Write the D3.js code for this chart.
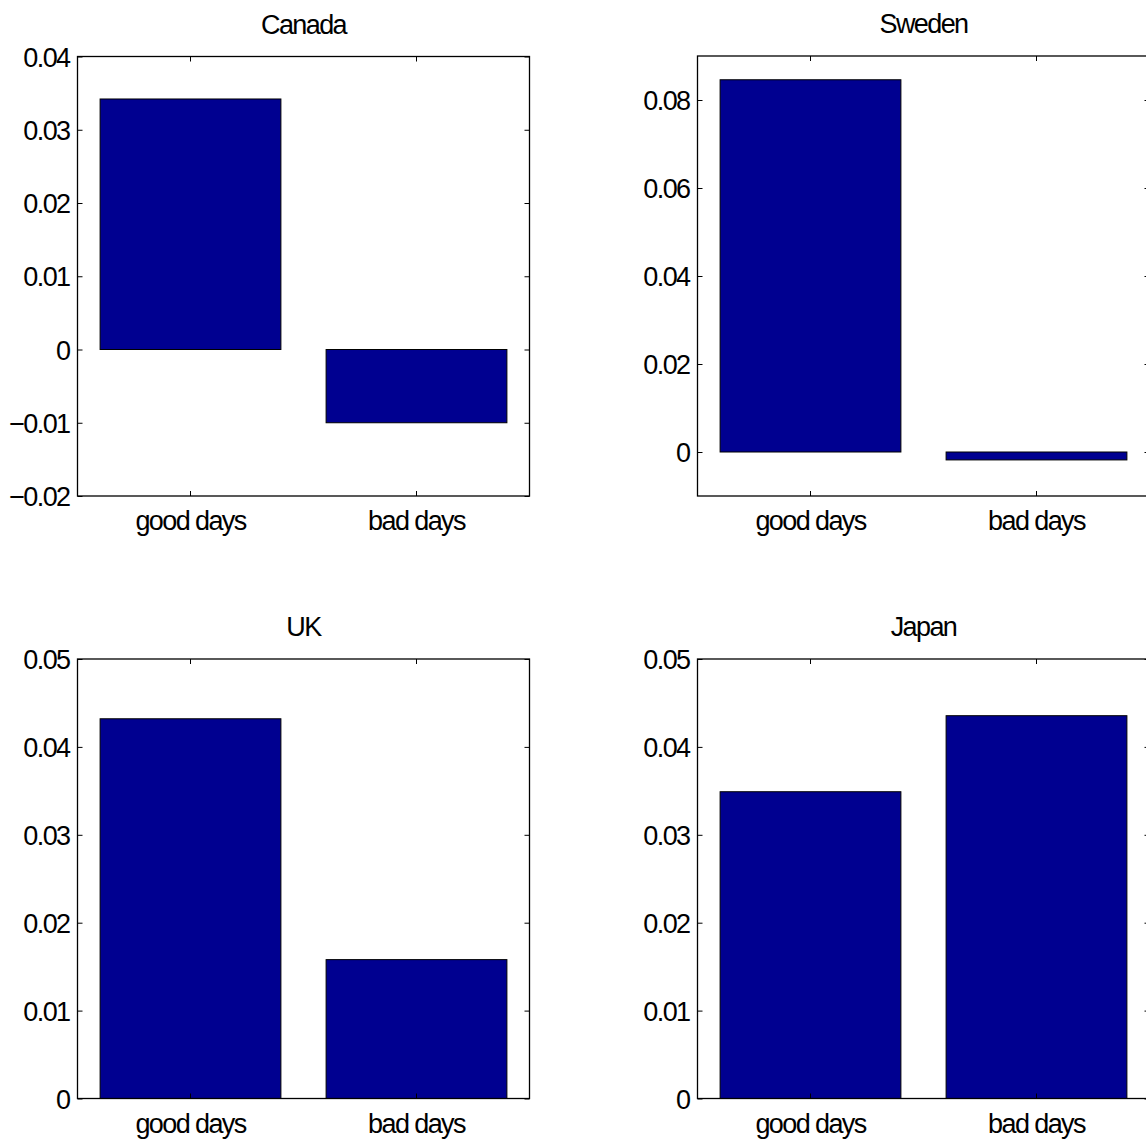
<!DOCTYPE html>
<html>
<head>
<meta charset="utf-8">
<script src="https://cdn.jsdelivr.net/npm/d3@7"></script>
<style>
  html, body { margin: 0; padding: 0; background: #fff; }
  svg { display: block; }
  text { font-family: "Liberation Sans", Arial, Helvetica, sans-serif; font-size: 27px; letter-spacing: -1.6px; fill: #000; }
</style>
</head>
<body>
<svg id="chart" width="1146" height="1142"></svg>
<script>
const categories = ["good days", "bad days"];
const countries = ["Canada", "Sweden", "UK", "Japan"];
const canadaValues = [0.0342, -0.0100];
const swedenValues = [0.0846, -0.0018];
const ukValues = [0.0432, 0.0158];
const japanValues = [0.0349, 0.04355];
const canadaTicks = [-0.02, -0.01, 0, 0.01, 0.02, 0.03, 0.04];
const swedenTicks = [0, 0.02, 0.04, 0.06, 0.08];
const ukTicks = [0, 0.01, 0.02, 0.03, 0.04, 0.05];
const japanTicks = [0, 0.01, 0.02, 0.03, 0.04, 0.05];
const canadaDomain = [-0.02, 0.04];
const swedenDomain = [-0.01, 0.09];
const ukDomain = [0, 0.05];
const japanDomain = [0, 0.05];

const panels = [
  { name: countries[0], values: canadaValues, ticks: canadaTicks, domain: canadaDomain, x: 77, y: 56.5, h: 439.5 },
  { name: countries[1], values: swedenValues, ticks: swedenTicks, domain: swedenDomain, x: 697, y: 56, h: 440 },
  { name: countries[2], values: ukValues, ticks: ukTicks, domain: ukDomain, x: 77, y: 659, h: 439.5 },
  { name: countries[3], values: japanValues, ticks: japanTicks, domain: japanDomain, x: 697, y: 659, h: 439.5 }
];
const W = 452;
const fmt = v => v === 0 ? "0" : (v < 0 ? "\u2212" : "") + String(+Math.abs(v).toFixed(4));

const svg = d3.select("#chart");

panels.forEach(p => {
  const g = svg.append("g").attr("transform", `translate(${p.x + 0.5},${p.y})`);
  const x = d3.scaleBand().domain(categories).range([0, W]).paddingInner(0.2).paddingOuter(0.1);
  const y = d3.scaleLinear().domain(p.domain).range([p.h, 0]);

  // bars
  g.selectAll("rect.bar").data(p.values).enter().append("rect")
    .attr("class", "bar")
    .attr("x", (d, i) => x(categories[i]))
    .attr("width", x.bandwidth())
    .attr("y", d => y(Math.max(0, d)))
    .attr("height", d => Math.abs(y(d) - y(0)))
    .attr("fill", "#000090")
    .attr("stroke", "#000")
    .attr("stroke-width", 1);

  // axes
  const styleAxis = sel => {
    sel.select(".domain").remove();
    sel.selectAll("line").attr("stroke", "#000").attr("stroke-width", 1);
    sel.selectAll("text").attr("fill", "#000").attr("font-size", null).attr("font-family", null);
  };
  g.append("g")
    .call(d3.axisLeft(y).tickValues(p.ticks).tickFormat(fmt).tickSizeInner(-5).tickSizeOuter(0).tickPadding(8))
    .call(styleAxis)
    .selectAll("text").attr("dy", "0.36em");
  g.append("g").attr("transform", `translate(${W},0)`)
    .call(d3.axisRight(y).tickValues(p.ticks).tickFormat("").tickSizeInner(-5).tickSizeOuter(0))
    .call(styleAxis);
  g.append("g").attr("transform", `translate(0,${p.h})`)
    .call(d3.axisBottom(x).tickSizeInner(-5).tickSizeOuter(0).tickPadding(15))
    .call(styleAxis)
    .selectAll("text").attr("dy", "0.71em");
  g.append("g")
    .call(d3.axisTop(x).tickFormat("").tickSizeInner(-5).tickSizeOuter(0))
    .call(styleAxis);

  // frame
  g.append("rect").attr("x", 0).attr("y", 0).attr("width", W).attr("height", p.h)
    .attr("fill", "none").attr("stroke", "#000").attr("stroke-width", 1.3);

  // title
  g.append("text").attr("x", W / 2).attr("y", -23).attr("text-anchor", "middle").text(p.name);
});
</script>
</body>
</html>
